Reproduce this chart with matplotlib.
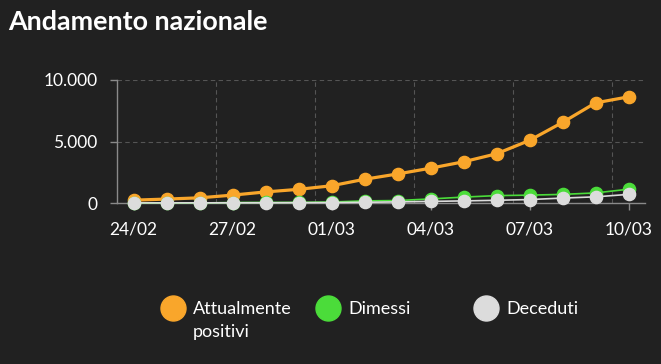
import numpy as np
import matplotlib.pyplot as plt
from matplotlib.lines import Line2D

giorni = ['24/02', '25/02', '26/02', '27/02', '28/02', '29/02', '01/03', '02/03',
          '03/03', '04/03', '05/03', '06/03', '07/03', '08/03', '09/03', '10/03']
positivi = [230, 320, 420, 640, 900, 1110, 1400, 1930, 2360, 2830, 3350, 4000, 5090, 6550, 8140, 8630]
dimessi = [0, 0, 0, 40, 45, 50, 80, 170, 200, 330, 480, 600, 640, 700, 820, 1120]
deceduti = [10, 10, 12, 17, 21, 29, 34, 60, 90, 130, 170, 220, 280, 400, 500, 700]

y_ticks = [0, 5000, 10000]
y_labels = ['0', '5.000', '10.000']
serie = ['Attualmente\npositivi', 'Dimessi', 'Deceduti']

BG = '#212121'
ARANCIO = '#f9a62b'
VERDE = '#4bdc3a'
GRIGIO = '#dcdcdc'
ASSE = '#8a8a8a'

plt.rcParams['font.family'] = ['Lato', 'DejaVu Sans']

W, H = 661, 364
fig = plt.figure(figsize=(W / 100, H / 100), dpi=100, facecolor=BG)
ax = fig.add_axes([117 / W, 1 - 203 / H, (645 - 117) / W, (203 - 80) / H])
ax.set_facecolor(BG)

x = np.arange(len(giorni))
ax.plot(x, positivi, color=ARANCIO, lw=2.3, marker='o', ms=8.8, zorder=3, clip_on=False)
ax.plot(x, dimessi, color=VERDE, lw=1.2, marker='o', ms=8.8, zorder=4, clip_on=False)
ax.plot(x, deceduti, color=GRIGIO, lw=1.2, marker='o', ms=8.8, zorder=5, clip_on=False)

ax.set_xlim(-0.5, len(giorni) - 0.5)
ax.set_ylim(0, 10000)

# tick ogni 3 giorni, griglia spostata di mezzo giorno
ax.set_xticks(x[::3])
ax.set_xticklabels(giorni[::3])
ax.set_xticks(x[::3][1:] - 0.5, minor=True)
ax.set_yticks(y_ticks)
ax.set_yticklabels(y_labels)

ax.grid(True, which='minor', axis='x', color='#555555', ls=(0, (4, 3)), lw=0.8)
ax.grid(True, which='major', axis='y', color='#555555', ls=(0, (4, 3)), lw=0.8)
ax.tick_params(axis='x', which='minor', length=0)
ax.tick_params(axis='both', which='major', colors=ASSE, labelcolor='white',
               labelsize=12.5, length=5, width=1)
ax.tick_params(axis='y', pad=9)
ax.tick_params(axis='x', pad=8)

for s in ['top', 'right']:
    ax.spines[s].set_visible(False)
for s in ['left', 'bottom']:
    ax.spines[s].set_color(ASSE)
    ax.spines[s].set_linewidth(1)

fig.text(8 / W, 1 - 22 / H, 'Andamento nazionale', color='white', fontsize=19.4,
         fontweight='bold', va='center', ha='left')

# legenda
colori = [ARANCIO, VERDE, GRIGIO]
pos_x = [173, 328, 486]
for nome, col, px in zip(serie, colori, pos_x):
    fig.add_artist(Line2D([px / W], [1 - 308 / H], transform=fig.transFigure,
                          marker='o', ms=18, color=col, ls='none'))
    fig.text((px + 20) / W, 1 - 301 / H, nome, color='white', fontsize=13,
             va='top', ha='left', linespacing=1.5)

fig.savefig('out.png', dpi=100, facecolor=BG)
